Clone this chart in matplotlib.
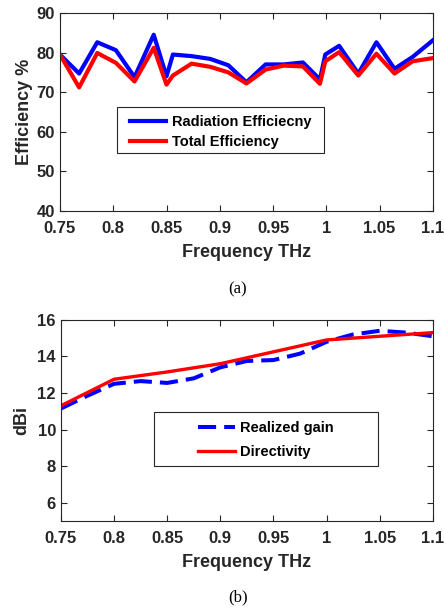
import matplotlib
matplotlib.use("Agg")
import matplotlib.pyplot as plt
from matplotlib.patches import Rectangle

# --- Data: (a) efficiency ---
freq_a = [0.75, 0.768, 0.785, 0.8025, 0.82, 0.838, 0.85, 0.856, 0.8735, 0.891,
          0.908, 0.925, 0.943, 0.96, 0.978, 0.994, 0.999, 1.012, 1.03, 1.047,
          1.064, 1.081, 1.1]
rad_eff = [79.5, 74.7, 82.6, 80.6, 73.8, 84.5, 74.0, 79.5, 79.1, 78.4,
           76.8, 72.5, 77.0, 77.0, 77.5, 73.2, 79.5, 81.7, 74.7, 82.6,
           75.9, 78.9, 83.1]
tot_eff = [79.5, 71.2, 79.9, 77.4, 72.7, 81.2, 71.9, 74.2, 77.2, 76.4,
           75.0, 72.2, 75.7, 76.7, 76.5, 72.1, 77.8, 80.1, 74.2, 79.7,
           74.7, 77.8, 78.6]

# --- Data: (b) gain ---
freq_g = [0.75, 0.775, 0.8, 0.825, 0.85, 0.875, 0.9, 0.925, 0.95, 0.975,
          1.0, 1.025, 1.05, 1.075, 1.1]
realized_gain = [11.15, 11.85, 12.5, 12.65, 12.55, 12.8, 13.4, 13.75, 13.8, 14.15,
                 14.8, 15.2, 15.4, 15.3, 15.1]
freq_d = [0.75, 0.8, 0.85, 0.9, 0.95, 1.0, 1.05, 1.1]
directivity = [11.3, 12.75, 13.15, 13.6, 14.25, 14.9, 15.1, 15.3]

xticks = [0.75, 0.8, 0.85, 0.9, 0.95, 1.0, 1.05, 1.1]
xticklabels = ["0.75", "0.8", "0.85", "0.9", "0.95", "1", "1.05", "1.1"]

plt.rcParams['font.family'] = ['Liberation Sans', 'DejaVu Sans']
plt.rcParams['font.weight'] = 'bold'

fig = plt.figure(figsize=(4.44, 6.08), dpi=100)
ax1 = fig.add_axes([0.135, 0.653, 0.840, 0.3257])
ax2 = fig.add_axes([0.137, 0.143, 0.838, 0.331])

tc = '#262626'

def style(ax):
    ax.set_xlim(0.75, 1.1)
    ax.set_xticks(xticks)
    ax.set_xticklabels(xticklabels)
    ax.tick_params(direction='in', top=True, right=True, length=4, width=0.8,
                   colors=tc, labelsize=12)
    ax.tick_params(axis='x', pad=7.5)
    ax.tick_params(axis='y', pad=3.5)
    for lab in ax.get_xticklabels() + ax.get_yticklabels():
        lab.set_fontweight('bold')
    for s in ax.spines.values():
        s.set_color(tc)
        s.set_linewidth(0.8)
    ax.set_xlabel('Frequency THz', fontsize=13, fontweight='bold', color=tc, labelpad=5.5)

def boxed_legend(ax, x0, y0, x1, y1, spacing, dy):
    ax.add_patch(Rectangle((x0, y0), x1 - x0, y1 - y0, transform=ax.transAxes,
                           facecolor='white', edgecolor=tc, lw=0.8, zorder=5))
    leg = ax.legend(loc='center', bbox_to_anchor=((x0 + x1) / 2, (y0 + y1) / 2 + dy),
                    fontsize=10.5, frameon=False, handlelength=2.5,
                    borderpad=0, labelspacing=spacing, handletextpad=0.35,
                    borderaxespad=0)
    leg.set_zorder(6)
    for t in leg.get_texts():
        t.set_fontweight('bold')
        t.set_color('black')
    return leg

ax1.plot(freq_a, rad_eff, color='#0000ff', lw=3.0, label='Radiation Efficiecny')
ax1.plot(freq_a, tot_eff, color='#ff0000', lw=3.0, label='Total Efficiency')
ax1.set_ylim(40, 90)
ax1.set_yticks([40, 50, 60, 70, 80, 90])
style(ax1)
ax1.set_ylabel('Efficiency %', fontsize=13, fontweight='bold', color=tc, labelpad=3)
boxed_legend(ax1, 0.153, 0.293, 0.708, 0.525, 0.45, -0.01)

ax2.plot(freq_g, realized_gain, color='#0000ff', lw=2.9, ls=(0, (4.5, 2)), label='Realized gain')
ax2.plot(freq_d, directivity, color='#ff0000', lw=2.4, label='Directivity')
ax2.set_ylim(5, 16)
ax2.set_yticks([6, 8, 10, 12, 14, 16])
style(ax2)
ax2.set_ylabel('dBi', fontsize=13, fontweight='bold', color=tc, labelpad=5)
boxed_legend(ax2, 0.25, 0.274, 0.852, 0.542, 0.72, -0.005)

fig.text(238 / 444, 1 - 289 / 608, '(a)', ha='center', va='center', fontsize=12,
         family='Liberation Serif', fontweight='normal')
fig.text(238 / 444, 1 - 597 / 608, '(b)', ha='center', va='center', fontsize=12,
         family='Liberation Serif', fontweight='normal')

fig.savefig('out.png', dpi=100)
